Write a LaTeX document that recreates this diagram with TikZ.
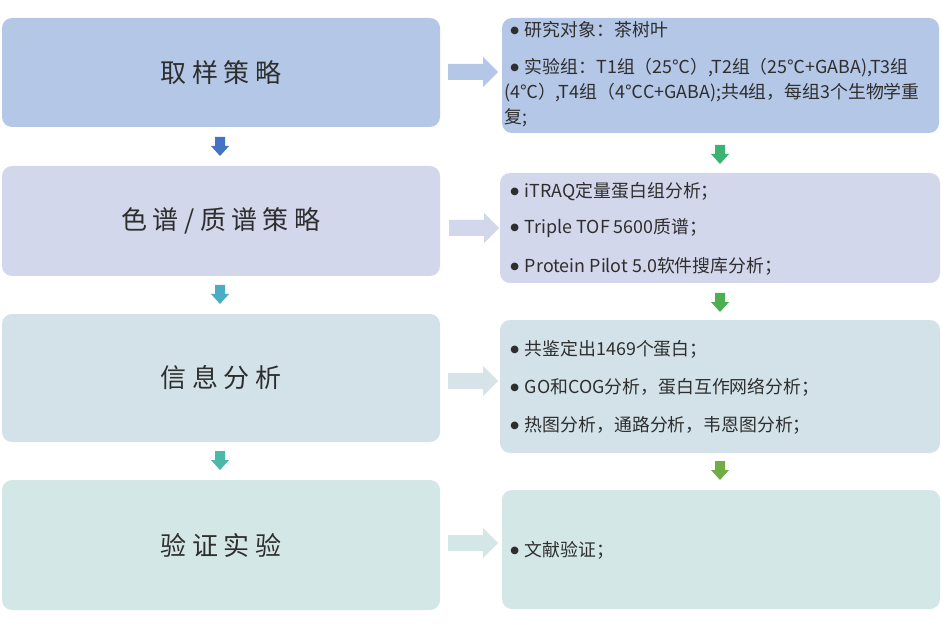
\documentclass[tikz,border=0pt]{standalone}
\usepackage{fontspec}
\setmainfont{Noto Sans CJK SC}
\newfontfamily\titlefont[LetterSpace=21]{Noto Sans CJK SC}
\newfontfamily\bulletfont{DejaVu Sans}
\newcommand\bul{\raisebox{2.3pt}{\bulletfont\fontsize{7.5}{8}\selectfont ●}\hspace{4.5pt}}
\usetikzlibrary{fit}
\definecolor{cA}{HTML}{B4C7E7}
\definecolor{cB}{HTML}{D2D7EB}
\definecolor{cC}{HTML}{D3E2E9}
\definecolor{cD}{HTML}{D3E8E6}
\definecolor{aC}{HTML}{D6E4EA}
\definecolor{dA}{HTML}{4472C4}
\definecolor{dB}{HTML}{4BACC6}
\definecolor{dC}{HTML}{4BB9A8}
\definecolor{gA}{HTML}{3CB371}
\definecolor{gB}{HTML}{4CAF50}
\definecolor{gC}{HTML}{70AD47}
\definecolor{txt}{HTML}{2E2E2E}
\begin{document}
\begin{tikzpicture}[x=0.75pt,y=-0.75pt,
  box/.style={rounded corners=7.5pt, inner sep=0pt, draw=none},
  titletext/.style={font=\titlefont\fontsize{19.5}{22}\selectfont, text=txt, inner sep=0pt},
  item/.style={anchor=west, font=\fontsize{13.4}{15}\selectfont, text=txt, inner sep=0pt},
  rarr/.pic={\path[pic actions] (0,-8) -- (35,-8) -- (35,-15) -- (50,0) -- (35,15) -- (35,8) -- (0,8) -- cycle;},
  darr/.pic={\path[pic actions] (-5,0) -- (5,0) -- (5,9) -- (9,9) -- (0,19) -- (-9,9) -- (-5,9) -- cycle;}
]
\useasboundingbox (0,0) rectangle (942,627);
\fill[white] (0,0) rectangle (942,627);

% left boxes
\node[box, fill=cA, fit={(2,18) (440,127)}] (L1) {};
\node[box, fill=cB, fit={(2,166) (440,276)}] (L2) {};
\node[box, fill=cC, fit={(2,314) (440,442)}] (L3) {};
\node[box, fill=cD, fit={(2,480) (440,610)}] (L4) {};
\node[titletext] (T1) at (L1.center) {取样策略};
\node[titletext] (T2) at (L2.center) {色谱/质谱策略};
\node[titletext] (T3) at (L3.center) {信息分析};
\node[titletext] (T4) at (L4.center) {验证实验};

% right boxes
\node[box, fill=cA, fit={(502,18) (939,133)}] (R1) {};
\node[box, fill=cB, fit={(500,173) (940,283)}] (R2) {};
\node[box, fill=cC, fit={(500,320) (940,453)}] (R3) {};
\node[box, fill=cD, fit={(502,490) (940,609)}] (R4) {};

\node[item] (r1a) at (510,30) {\bul 研究对象：茶树叶};
\node[item] (r1b) at (510,68) {\bul 实验组：T1组（25℃）,T2组（25℃+GABA),T3组};
\node[item] (r1c) at (504,93) {(4℃）,T4组（4℃C+GABA);共4组，每组3个生物学重};
\node[item] (r1d) at (504,118) {复;};

\node[item] (r2a) at (510,192) {\bul iTRAQ定量蛋白组分析；};
\node[item] (r2b) at (510,228) {\bul Triple TOF 5600质谱；};
\node[item] (r2c) at (510,266) {\bul Protein Pilot 5.0软件搜库分析；};

\node[item] (r3a) at (510,349) {\bul 共鉴定出1469个蛋白；};
\node[item] (r3b) at (510,387) {\bul GO和COG分析，蛋白互作网络分析；};
\node[item] (r3c) at (510,425) {\bul 热图分析，通路分析，韦恩图分析；};

\node[item] (r4a) at (510,550) {\bul 文献验证；};

% right-pointing block arrows
\pic[fill=cA] at (448,72) {rarr};
\pic[fill=cB] at (449,228) {rarr};
\pic[fill=aC] at (448,381) {rarr};
\pic[fill=cD] at (448,543) {rarr};

% down arrows, left column
\pic[fill=dA] at (220,137) {darr};
\pic[fill=dB] at (220,285) {darr};
\pic[fill=dC] at (220,451) {darr};

% down arrows, right column
\pic[fill=gA] at (720,145) {darr};
\pic[fill=gB] at (720,293) {darr};
\pic[fill=gC] at (720,461) {darr};
\end{tikzpicture}
\end{document}
